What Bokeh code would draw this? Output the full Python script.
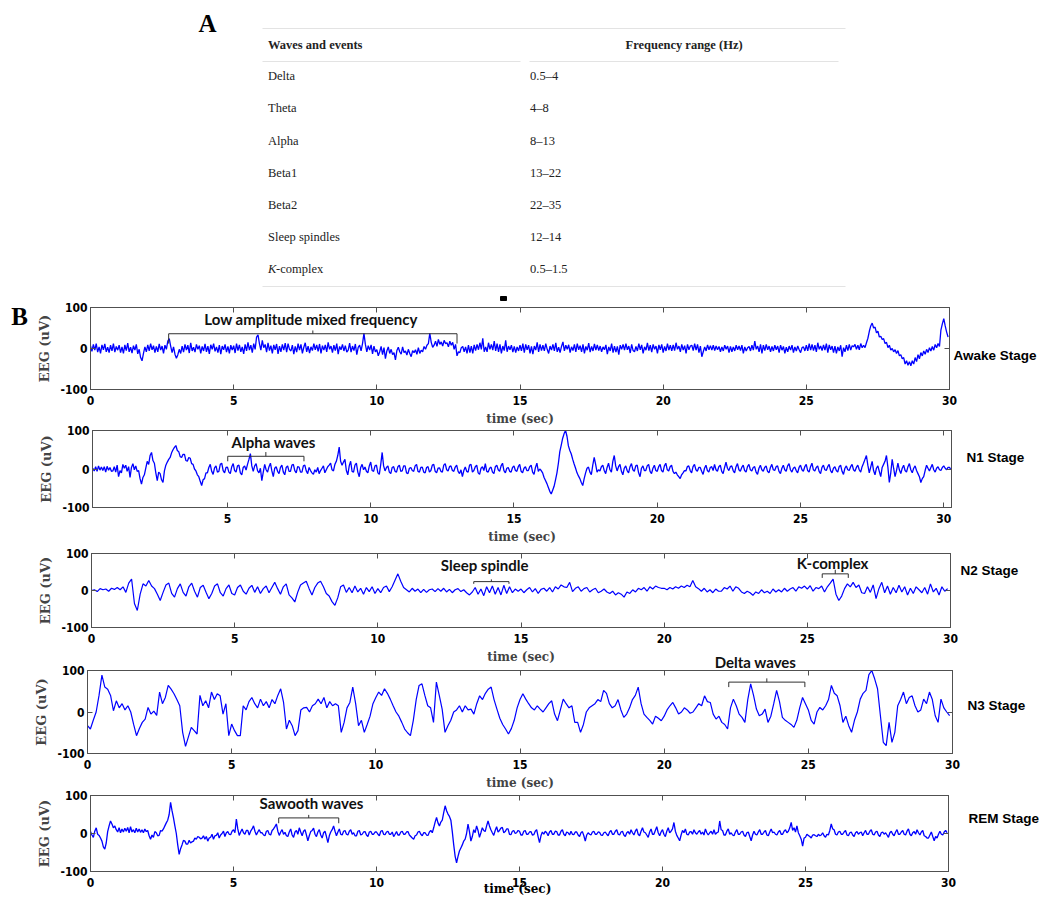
import numpy as np
from bokeh.plotting import figure
from bokeh.models import Range1d, FixedTicker, LinearAxis, Label
from bokeh.layouts import column
from bokeh.embed import file_html
from bokeh.resources import INLINE
from bokeh.core.properties import value

# ---------------- Panel A: table ----------------
table_header = ["Waves and events", "Frequency range (Hz)"]
waves = ["Delta", "Theta", "Alpha", "Beta1", "Beta2", "Sleep spindles", "K-complex"]
freq_ranges = ["0.5–4", "4–8", "8–13", "13–22", "22–35", "12–14", "0.5–1.5"]

# ---------------- Panel B: EEG traces (uV) ----------------
stage_names = ["Awake Stage", "N1 Stage", "N2 Stage", "N3 Stage", "REM Stage"]
x_ticks = [0, 5, 10, 15, 20, 25, 30]
y_ticks = [-100, 0, 100]
start_times = [0.0, 0.3, 0.0, 0.0, 0.0]
sample_steps = [0.05, 0.05, 0.1, 0.1, 0.05]
x_limits = [(0, 30), (0.29, 30.27), (0, 30), (0, 30), (0, 30)]

# Awake, 20 samples per second (one row = 1 s)
awake = [
    6, -7, 10, -4, 12, -9, 4, -12, 9, -3, 11, -8, 3, -10, 8, -6, 12, -9, 5, -4,
    8, -10, 4, -12, 9, -5, 13, -8, 3, -11, 7, -4, 10, -13, -2, -22, -30, -12, 4, -8,
    9, -6, 12, -3, 7, -10, 5, -8, 11, -4, 6, -12, 8, -2, 18, 24, 6, -10, 4, -14,
    -24, -15, -2, -12, 6, -9, 10, -4, 8, -11, 14, -6, 3, -9, 10, -2, 7, -12, 5, -6,
    11, -8, 6, -13, 9, -2, 12, -7, 4, -10, 8, -14, 6, -3, 10, -9, 5, -12, 8, -4,
    7, -11, 12, -5, 9, -8, 4, -13, 10, -6, 15, -4, 8, -10, 12, -2, 28, 33, 12, -4,
    20, 2, 10, -9, 14, -5, 7, -12, 9, -3, 11, -13, 6, -8, 10, -4, 13, -9, 12, -2,
    -6, 8, -14, 5, -9, 12, -4, 10, -12, 3, 14, -8, 6, -11, 4, -5, 12, -3, 9, -7,
    11, -12, 7, -4, 9, -8, 15, -2, 6, -10, 8, -5, 12, -14, 5, -3, 10, -6, 7, -9,
    -4, 13, -9, 6, -5, 11, -15, 3, 8, -6, 12, 37, 10, -8, 7, -4, 9, -13, 6, -8,
    -3, -18, -8, 5, -15, 2, -25, -6, 4, -12, -2, -15, -10, -28, -5, 3, -8, -14, 4, -10,
    -6, -16, -2, -12, -20, -5, -10, -3, -14, 2, -12, -4, -8, 5, -2, 8, 12, 37, 15, 3,
    8, 18, 5, 22, 10, 16, 6, 20, 12, 14, 4, 18, 8, 15, -2, 10, -18, -8, -10, 2,
    5, -8, 4, -12, 8, -10, 6, -12, 9, -5, 10, -3, 14, -2, 25, -8, 4, -8, 14, -2,
    10, -4, 18, -6, 12, -8, 10, -12, 6, -5, 20, -8, 6, -3, 8, -9, 5, -10, 4, -6,
    8, -6, 12, -10, 10, -3, 8, -12, 5, -14, 6, -4, 15, -8, 10, -5, 8, -6, 12, -2,
    -12, 6, -4, 10, -6, 14, -8, 3, -10, 5, 16, -6, 8, -2, 9, -10, 4, -5, 10, -8,
    12, -3, 7, -8, 10, -12, 5, -4, 13, -9, 5, -6, 11, -4, 9, -5, 6, -8, 4, -3,
    9, -14, 4, -6, 12, -10, 6, -9, 5, -15, 8, -2, 10, -4, 12, -3, 6, -11, 10, -5,
    -8, 5, -6, 12, -3, 9, -12, 4, -4, 14, -5, 8, -9, 10, -2, 6, -12, 9, -3, 10,
    -10, 5, -6, 12, -4, 8, -6, 9, -5, 14, -2, 6, -8, 10, -4, 7, -12, 10, -3, 6,
    8, -5, 12, -4, 10, -10, 6, -20, -8, 4, -6, 9, -3, 7, -4, 8, -5, 6, -3, 5,
    -8, 4, -6, 8, -2, 6, -10, 5, -8, 4, -6, 8, -3, 6, -5, 8, -12, 4, -6, 2,
    5, -6, 8, -4, 18, -2, 6, -8, 10, -12, 8, -5, 10, -3, 6, -8, 5, -6, 8, -3,
    6, -10, 8, -4, 5, -12, 3, -8, 6, -4, 8, -10, 4, -6, 6, -3, -10, 2, 4, -6,
    8, -6, 12, -4, 10, -5, 8, -8, 14, -2, 6, -5, 9, -4, 12, -10, 9, -3, 6, -10,
    6, -12, 4, -6, 8, -20, 2, -8, 8, -5, 10, -4, 7, 4, 10, -2, 8, -3, 12, 2,
    8, 2, 14, 25, 42, 55, 62, 50, 52, 38, 42, 28, 30, 22, 24, 12, 15, 2, 8, -4,
    0, -8, -3, -12, -5, -18, -15, -25, -22, -38, -30, -41, -32, -42, -30, -38, -22, -32, -15, -25,
    -10, -18, -6, -14, -2, -10, 2, -6, 5, -4, 10, 2, 12, 5, 45, 60, 73, 55, 40, 28,
]

# N1, 20 samples per second starting at 0.3 s
n1 = [
    2, -5, 6, -6, 8, -3, 5, -4, 6, -8, 7, -3, 4, -6,
    -5, 6, -8, 10, -20, -4, -10, 12, 2, 10, -6, 6, -22, 4, 14, -2, 8, -6, -4, -25,
    -39, -22, -15, 2, 20, 12, 35, 43, 22, 15, -10, -30, -8, -12, -28, -35, -5, 10, 18, 25,
    30, 42, 50, 56, 61, 48, 45, 32, 30, 38, 38, 22, 20, 30, 28, 14, 12, 0, -5, -15,
    -20, -32, -43, -28, -25, -10, -10, 4, 12, -6, -14, 3, 8, -8, -6, 12, 15, -4, -10, 4,
    5, -8, -12, 6, 14, -4, -8, 8, 10, -10, -15, 4, 8, -3, 12, 25, 40, 8, -6, 8,
    14, -4, -10, 2, -30, -8, 12, -2, -8, 6, 15, -5, -20, 2, 6, -6, -12, 4, 10, -8,
    -15, 4, 8, -6, -6, 10, 12, -4, -10, 6, 5, -8, -8, 8, 10, -5, -12, 4, -4, -10,
    -14, -2, -8, 4, -12, -4, 2, 8, -10, -2, 6, 10, 15, -2, -5, 12, 20, 35, 57, 20,
    10, 18, 25, -4, -15, 8, 20, -6, -8, 10, 15, -8, -20, 4, 12, -2, 5, -6, -10, 8,
    18, -4, -6, 8, 10, -10, -14, 12, 43, 8, -5, 4, 8, -8, -12, 4, 6, -6, -8, 6,
    10, -6, -5, 8, 8, -10, -12, 2, 4, -4, -6, 8, 12, -6, -8, 4, 5, -8, -10, 4,
    6, -8, -4, 10, 12, -6, -10, 2, 3, -6, -8, 10, 14, -2, -5, 6, 8, -4, -6, 5,
    10, -6, -12, -2, -20, -4, 5, -6, -8, 10, 12, -8, -4, 6, 10, -10, -14, 2, 6, -4,
    14, -6, -8, 2, 5, -8, -12, 6, 10, -2, -6, 8, 15, -4, -10, 2, 4, -6, -8, 4,
    8, -4, -6, 6, 12, -6, -10, 2, 6, -4, -4, 6, 10, -8, -14, 4, 15, -6, 0, -4,
    -10, -22, -30, -38, -48, -58, -65, -55, -45, -28, -10, 15, 45, 62, 80, 92, 100, 85, 60, 48,
    39, 25, 13, 2, -10, -18, -25, -35, -43, -25, -10, 2, 5, -8, -15, 10, 30, 12, -8, -2,
    -5, 6, 10, -4, -12, 4, 15, -2, -8, 20, 35, 8, -5, 6, 12, -6, -15, 2, 8, -4,
    -10, 6, 14, -2, -6, 8, 10, -10, -20, 2, 8, -4, -4, 8, 12, -6, -12, 2, 10, -4,
    -6, 6, 12, -4, -8, 8, 15, -2, -5, 6, 10, -6, -12, -8, -15, -20, -25, -15, -10, -4,
    -5, 6, 8, -4, -10, 6, 12, -2, -6, 4, 4, -6, -14, 2, 10, -4, -8, 4, 6, -4,
    12, -2, -6, 6, 10, -6, -12, 4, 18, 2, -4, 6, 8, -4, -10, 6, 14, -2, -6, 4,
    10, -4, -8, 6, 12, -2, -5, 4, 6, -8, -14, 2, 10, -2, -6, 4, 8, -6, -10, 4,
    12, -2, -4, 6, 8, -6, -12, 2, 10, -2, -6, 8, 14, -2, -8, 2, 5, -4, -10, 4,
    10, -2, -6, 6, 12, -4, -8, 6, 15, -2, -5, 4, 8, -6, -12, 4, 10, -2, -4, 6,
    12, -4, -10, 2, 6, -4, -8, 6, 10, -6, -14, 2, 8, -2, -4, 6, 12, -2, -6, 4,
    10, -2, -8, 6, 15, 25, 35, 10, -10, 5, 20, -4, -15, 2, 8, -6, -20, 4, 12, 20,
    35, 5, -35, -10, 25, 2, -20, -4, 15, -2, -12, 2, 10, -4, -8, 6, 14, -2, -10, 2,
    8, -4, -12, -20, -35, -25, -20, -4, 10, 2, -5, 4, 12, -2, -8, 2, 6, -2, -4, 4,
    8, 2, -2, 4, 4, -2,
]

# N2, 10 samples per second
n2 = [
    0, 2, -3, 5, 2, 4, -2, 6, 3, 8,
    2, 10, -5, 20, 31, -35, -54, -10, 18, 12,
    27, 12, 5, -10, -27, -5, 15, 20, -8, -18,
    5, 18, -5, -15, 10, 20, -2, -18, 8, 14,
    -5, -22, -8, 12, 18, -6, -15, 5, 15, -8,
    -12, 8, 15, -2, -10, 6, 14, -5, 10, -8,
    5, 12, -6, 8, 22, 5, -10, 10, 18, -12,
    -20, -31, -5, 15, 20, 25, 5, -12, 8, 20,
    25, 10, -8, -15, -30, -40, -20, 10, 15, -5,
    8, -6, 12, -4, 6, -10, 8, -3, 10, -8,
    5, -6, 8, 12, -3, 10, 28, 45, 25, 8,
    2, -4, 6, -2, 4, -6, 3, -5, 2, 4,
    -3, 5, -2, 6, -4, 3, -6, 2, 5, -3,
    2, -6, -12, -4, 8, -10, 4, -14, 10, -6,
    12, -10, 8, -12, 14, -8, 10, -6, 4, -2,
    4, -6, 2, 8, -4, 5, -8, 3, 6, -2,
    8, -4, 10, 4, 15, 10, 8, 22, -3, 6,
    10, -2, 5, 8, -4, 2, 6, -6, -2, 4,
    -4, -8, -2, -12, -6, -10, -18, -4, -8, 2,
    -4, 6, 2, 8, -2, 10, 4, 12, 8, 6,
    6, 2, 8, 4, 10, 6, 12, 8, 14, 10,
    27, 10, 5, -2, 6, -4, 2, -6, 4, -2,
    -2, 8, 4, 12, -2, 10, 6, -4, -8, -2,
    -6, -13, -4, -8, 2, -6, -2, -8, 4, -4,
    2, -4, 6, -2, 4, 8, -2, 10, 6, 12,
    4, 13, -2, 8, 5, 12, -4, 10, 20, 31,
    -10, -27, -15, 5, 18, 10, 22, 8, 15, -6,
    -8, 10, -5, 15, -22, 5, 22, -6, 12, -10,
    8, -6, 14, -4, 10, -12, 6, -8, 10, 2,
    -6, 8, -10, 18, -4, 6, -12, 10, -2, 5,
]

# N3, 10 samples per second
n3 = [
    -33, -41, -20, 0, 40, 89, 60, 55, 40, 3,
    27, 10, 20, 5, 15, 0, -30, -57, -40, -25,
    -17, 11, -5, 2, -8, 48, 20, 35, 64, 55,
    44, 30, 15, -49, -83, -60, -37, -45, -53, 40,
    15, 27, 10, 48, 30, 44, 39, -5, 20, -57,
    -29, -45, -57, -57, 15, 5, 25, 35, 20, 10,
    31, 15, 25, 10, 30, 20, 40, 56, 23, -41,
    -20, -33, -57, -45, 5, 10, 11, 0, 15, 20,
    31, 20, 35, 10, 25, 15, 20, 15, -49, -25,
    10, 23, 60, 20, -33, -20, -49, -30, -10, 20,
    35, 48, 40, 56, 45, 31, 15, 0, -10, -25,
    -41, -50, -57, -20, 30, 64, 68, 40, 15, 10,
    -25, 72, 40, 7, -49, -33, -20, 0, 5, 15,
    0, 15, 5, 7, -5, 20, 39, 30, 45, 55,
    60, 30, 7, -15, -30, -41, -53, -40, -20, 10,
    30, 44, 31, 20, 10, 5, 15, 7, 0, 10,
    20, 27, -5, -21, 5, 31, 20, 10, 15, -25,
    -25, -49, -30, 0, 10, 15, 20, 30, 25, 52,
    45, 20, 10, 15, 30, 5, -13, -5, 10, 30,
    40, 60, 20, -5, -13, -20, -29, -10, -15, -21,
    -10, 5, 15, 23, 10, -5, 0, 10, 5, -3,
    0, 10, 20, 15, 39, 25, 23, -5, -17, -10,
    -25, -30, -41, 10, 31, 15, -5, -13, -25, 30,
    68, 40, 7, -9, -5, 7, -25, -10, 20, 52,
    25, -13, -20, -25, -30, -37, -20, 10, 35, 20,
    5, -20, -29, 0, 11, 5, 15, 30, 64, 45,
    39, 15, -25, -10, -33, -49, -20, 0, 31, 45,
    52, 90, 100, 80, 56, -9, -73, -81, -25, -73,
    -49, 15, 30, 48, 20, 35, 39, 15, 0, 5,
    31, 20, 48, 30, -9, -25, 31, 10, 0, -9,
]

# REM, 20 samples per second
rem = [
    5, -4, -10, 6, 15, -2, -5, -12, -20, -35, -41, -25, 5, 20, 33, 25, 15, 20, 10, 4,
    15, 2, 12, 4, 14, 6, 16, 2, 18, 4, 10, 2, 14, 4, 12, 3, 10, 2, 12, 5,
    8, -6, -15, -4, -10, 5, 2, -6, -5, 8, 6, 12, 20, 28, 35, 50, 82, 60, 42, 20,
    0, -30, -55, -40, -30, -18, -20, -28, -28, -18, -25, -22, -20, -12, -15, -8, -10, -14, -12, -6,
    -15, -8, -20, -12, -10, -2, -15, -6, -5, 2, -12, -4, 0, 6, -8, 2, 5, -2, -3, 6,
    10, 2, 38, 12, -5, 4, 12, 2, -2, 8, 8, -4, 6, 12, 20, 6, -4, 4, 10, 2,
    2, -4, -6, 6, 8, -2, -4, 8, 12, 18, 25, 6, -5, 4, 10, -2, 3, -6, -8, 4,
    12, -4, -10, 4, 8, -2, 15, 4, -6, 6, 10, -4, -19, -6, 5, 8, 14, -2, -8, 4,
    10, -4, -12, 2, 6, -8, -24, -6, 4, 10, 20, 6, -6, 4, 12, -2, -4, 6, 8, -2,
    -4, 6, 10, -2, 2, -6, -6, 6, 8, -4, -2, 4, 5, -4, -8, 4, 6, -2, -2, 4,
    4, -2, -6, 6, 8, -2, -3, 4, 6, -2, -2, 4, -8, -2, 5, -4, -4, 4, 6, -2,
    -2, 4, 5, -4, -8, -12, -15, -6, -4, 4, 6, -2, -6, 2, 2, -4, -5, 4, 8, 2,
    15, 30, 42, 28, 20, 30, 35, 55, 73, 60, 51, 45, 35, 5, -30, -60, -77, -60, -46, -38,
    -30, -20, -15, 0, 25, 5, -20, -8, 10, 2, 20, 8, -10, 2, 15, 8, 5, 20, 33, 20,
    10, 2, -5, 8, 18, 4, 8, 14, 16, 2, 5, 12, 12, -2, -3, 6, 8, 0, 2, 8,
    6, -4, -4, 6, 8, -2, -2, 4, 5, -4, -3, 6, 10, -8, -24, -6, 4, -2, 6, 2,
    -6, 4, 8, -2, -2, 6, 5, -4, -4, 6, 10, -2, -6, 4, 2, -4, 6, -2, -3, 4,
    4, -4, -8, 2, 5, -6, -20, -4, 2, -2, -4, 4, 6, -2, -2, 4, 3, -4, -5, 2,
    4, -2, -6, 4, 8, -2, -2, 6, 10, -2, -4, 4, 6, -4, -8, 2, 5, -2, 10, 2,
    -4, 6, 12, -2, -6, 6, 15, 4, 2, -4, -10, 4, 12, -2, -2, 8, 18, 2, -6, 4,
    10, -2, -8, 6, 15, 2, 6, 12, 29, 6, -5, -12, -19, -4, 8, 2, 12, -2, -4, 4,
    5, -2, 10, 2, -2, 4, 8, -2, 4, -4, 12, 2, -4, 2, 6, -2, 10, -2, 2, 4,
    33, 10, 8, -4, -4, 6, 12, -2, 2, -4, -6, 4, 10, -2, -2, 4, 6, -4, -8, 2,
    4, -8, -19, -4, 6, -2, -4, 4, 10, -2, -2, 4, 8, -4, -6, 4, 12, 2, 4, -2,
    -4, 4, 8, -2, -2, 6, 10, 2, 6, 15, 29, 8, 15, 4, 20, 2, -6, -15, -33, -12,
    -10, -2, -5, -8, -12, -4, -3, -6, -8, -2, -6, -4, 2, -6, -10, -2, -4, 8, 25, 12,
    10, -2, -4, 4, 6, -2, -2, 4, 8, -4, -6, 2, 4, -4, -8, 2, 5, -2, 2, 4,
    -6, 2, 8, -2, -2, 6, 10, -2, -4, 4, 6, -4, -8, 2, 4, -2, 2, -4, -10, 2,
    6, -2, -6, 4, 10, -2, -2, 4, 8, -2, -4, 6, 12, -2, -6, 2, 5, -2, 10, 2,
    -4, 4, 8, -6, -8, -12, -12, -4, 4, -8, -19, -8, -12, -2, 6, -2, -4, 4, 8, 2,
]

traces = [awake, n1, n2, n3, rem]

# annotated events: (panel, label, start time, end time)
events = [
    (0, "Low amplitude mixed frequency", 2.73, 12.8),
    (1, "Alpha waves", 5.01, 7.67),
    (2, "Sleep spindle", 13.35, 14.58),
    (2, "K-complex", 25.52, 26.43),
    (3, "Delta waves", 22.24, 24.88),
    (4, "Sawooth waves", 6.58, 8.68),
]

# ---------------- styling / layout ----------------
FRAME = "#505050"
TICK_FONT = "Liberation Sans Narrow, DejaVu Sans Condensed, sans-serif"
SERIF = "Liberation Serif"
AX_FONT = "DejaVu Serif"
ANN_FONT = "Lato"
W = 1032
TABLE_H = 293
line_widths = [1.3, 1.3, 1.2, 1.2, 1.3]

# bracket geometry (y levels) per event, label position inside the panel (None -> overlay)
bracket_y = [(36, 12, 44), (33, 20, 44), (24, 18, 30), (45, 34, 56), (72, 60, 81), (41, 27, 49)]
event_text_pos = [(7.7, 73), (6.61, 69), (13.73, 70), (25.88, 73), None, (7.73, 80)]
# frame rectangles on the page: left, right, top, bottom
panel_frames = [(90, 949, 307, 389), (92, 951, 430, 507), (91, 950, 553, 627),
                (87, 952, 670, 753), (90, 948, 795, 871)]
# page positions of free texts (overlay)
stage_page_pos = [(953, 355), (966, 457), (960, 570), (967, 705), (968, 818)]


def no_align(fig):
    if "frame_align" in fig.properties():
        fig.frame_align = False


# ---- table figure (coordinates = page pixels minus the 8px margin) ----
tbl = figure(width=W, height=TABLE_H, x_range=Range1d(0, W), y_range=Range1d(TABLE_H, 0),
             x_axis_location=None, y_axis_location=None, toolbar_location=None, tools="",
             output_backend="svg", min_border=0, outline_line_color=None,
             border_fill_color=None, background_fill_color=None)
tbl.grid.visible = False
no_align(tbl)
tbl.margin = (8, 0, 0, 8)

tbl.text(x=[199], y=[15], text=["A"], text_font=value(SERIF), text_font_style="bold",
         text_font_size="25px", text_align="center", text_baseline="middle", text_color="black")

line_col = "#e3e3e3"
tbl.segment(x0=[254, 254, 254, 521], y0=[20, 278, 53, 53], x1=[837, 837, 512, 830],
            y1=[20, 278, 53, 53], line_color=line_col, line_width=1)

tbl.text(x=[259.5, 617], y=[36, 36], text=table_header, text_font=value(SERIF),
         text_font_style="bold", text_font_size="12.5px", text_baseline="middle",
         text_color="#222222")

row_y = [67.7 + 32.17 * i for i in range(len(waves))]
plain = [w for w in waves if w != "K-complex"]
tbl.text(x=[259.5] * len(plain), y=row_y[:len(plain)], text=plain, text_font=value(SERIF),
         text_font_size="12.5px", text_baseline="middle", text_color="#222222")
k_idx = waves.index("K-complex")
tbl.text(x=[259.5], y=[row_y[k_idx]], text=["K"], text_font=value(SERIF), text_font_style="italic",
         text_font_size="12.5px", text_baseline="middle", text_color="#222222")
tbl.text(x=[267.5], y=[row_y[k_idx]], text=["-complex"], text_font=value(SERIF),
         text_font_size="12.5px", text_baseline="middle", text_color="#222222")
tbl.text(x=[521.5] * len(freq_ranges), y=row_y, text=freq_ranges, text_font=value(SERIF),
         text_font_size="12.5px", text_baseline="middle", text_color="#222222")
tbl.quad(left=[492], right=[498], top=[288], bottom=[292], color="black")

figs = [tbl]
prev_end = 8 + TABLE_H


def style_axis(ax, ticks, show, standoff):
    ax.ticker = FixedTicker(ticks=ticks, minor_ticks=[])
    ax.major_tick_in = 5
    ax.major_tick_out = 0
    ax.minor_tick_line_color = None
    ax.axis_line_color = FRAME
    ax.major_tick_line_color = FRAME
    ax.major_label_standoff = standoff
    if show:
        ax.major_label_text_font = TICK_FONT
        ax.major_label_text_font_style = "bold"
        ax.major_label_text_font_size = "12px"
        ax.major_label_text_color = "black"
    else:
        ax.major_label_text_font_size = "1px"
        ax.major_label_text_color = None


for i in range(5):
    L, R, T, B = panel_frames[i]
    top_b = 22
    bot_b = 40 if i < 4 else 21
    p = figure(frame_width=R - L, frame_height=B - T, min_border_left=L - 8,
               min_border_right=(8 + W) - R, min_border_top=top_b, min_border_bottom=bot_b,
               x_range=Range1d(*x_limits[i]), y_range=Range1d(-100, 100),
               output_backend="svg", toolbar_location=None, tools="",
               border_fill_color=None, background_fill_color="white",
               outline_line_color=FRAME)
    no_align(p)
    fig_top = T - top_b
    p.margin = (fig_top - prev_end, 0, 0, 8)
    prev_end = fig_top + top_b + (B - T) + bot_b
    p.grid.visible = False

    v = traces[i]
    t = start_times[i] + sample_steps[i] * np.arange(len(v))
    p.line(t, v, line_color="#0000ff", line_width=line_widths[i])

    xa = p.xaxis[0]
    style_axis(xa, x_ticks, True, 6)
    ya = p.yaxis[0]
    style_axis(ya, y_ticks, True, 3)
    ya.major_label_overrides = {-100: "-100", 0: "0", 100: "100"}
    ya.axis_label = "EEG (uV)"
    ya.axis_label_text_font = AX_FONT
    ya.axis_label_text_font_style = "bold"
    ya.axis_label_text_font_size = "13px"
    ya.axis_label_standoff = 5
    if i < 4:
        xa.axis_label = "time (sec)"
        xa.axis_label_text_font = AX_FONT
        xa.axis_label_text_font_style = "bold"
        xa.axis_label_text_font_size = "12px"
        xa.axis_label_standoff = 4

    top_ax = LinearAxis()
    style_axis(top_ax, x_ticks, False, 0)
    p.add_layout(top_ax, "above")
    right_ax = LinearAxis()
    style_axis(right_ax, y_ticks, False, 0)
    p.add_layout(right_ax, "right")

    for k, (pi, lab, t0, t1) in enumerate(events):
        if pi != i:
            continue
        yb, ye, ytip = bracket_y[k]
        tc = 0.5 * (t0 + t1)
        p.multi_line(xs=[[t0, t0, t1, t1], [tc, tc]], ys=[[ye, yb, yb, ye], [yb, ytip]],
                     line_color="#303030", line_width=1)
        if event_text_pos[k] is not None:
            tx, ty = event_text_pos[k]
            p.add_layout(Label(x=tx, y=ty, text=lab, text_font=ANN_FONT,
                               text_font_style="bold", text_font_size="15px",
                               text_align="center", text_baseline="middle",
                               text_color="#111111"))
    figs.append(p)

# ---- transparent overlay (page pixel coordinates) for texts outside the frames ----
OV_W, OV_H = 1046, 900
ov = figure(width=OV_W, height=OV_H, x_range=Range1d(0, OV_W), y_range=Range1d(OV_H, 0),
            x_axis_location=None, y_axis_location=None, toolbar_location=None, tools="",
            output_backend="svg", min_border=0, outline_line_color=None,
            border_fill_color=None, background_fill_color=None)
ov.grid.visible = False
no_align(ov)
ov.margin = (-prev_end, 0, 0, 0)

ov.text(x=[19], y=[315.5], text=["B"], text_font=value(SERIF), text_font_style="bold",
        text_font_size="25px", text_align="center", text_baseline="middle", text_color="black")
ov.text(x=[sp[0] for sp in stage_page_pos], y=[sp[1] for sp in stage_page_pos], text=stage_names,
        text_font=value("Liberation Sans"), text_font_style="bold", text_font_size="13.5px",
        text_align="left", text_baseline="middle", text_color="black")
delta_lab = [e[1] for e in events if e[0] == 3][0]
ov.text(x=[755], y=[661.5], text=[delta_lab], text_font=value(ANN_FONT), text_font_style="bold",
        text_font_size="15px", text_align="center", text_baseline="middle", text_color="#111111")
ov.text(x=[517], y=[888], text=["time (sec)"], text_font=value(AX_FONT), text_font_style="bold",
        text_font_size="12px", text_align="center", text_baseline="middle", text_color="black")
figs.append(ov)

layout = column(*figs, spacing=0)
open("out.html", "w").write(file_html(layout, INLINE))
